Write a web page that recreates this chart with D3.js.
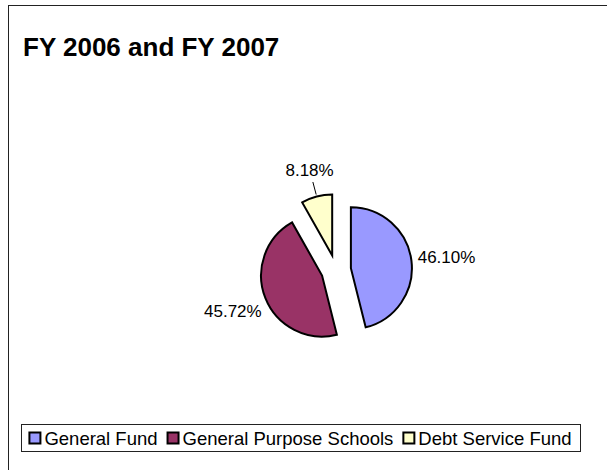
<!DOCTYPE html>
<html>
<head>
<meta charset="utf-8">
<script src="https://cdn.jsdelivr.net/npm/d3@7"></script>
<style>
  html, body { margin: 0; padding: 0; background: #fff; }
  svg { display: block; }
  text { font-family: Arial, "Liberation Sans", sans-serif; fill: #000; }
</style>
</head>
<body>
<svg id="chart" width="607" height="470"></svg>
<script>
// Fund shares, FY 2006 and FY 2007
const title = "FY 2006 and FY 2007";
const categories = ["General Fund", "General Purpose Schools", "Debt Service Fund"];
const shares = [46.10, 45.72, 8.18];
const colors = ["#9999FF", "#993366", "#FFFFCC"];

const svg = d3.select("#chart");
const W = 607, H = 470;

// chart frame (runs past the right and bottom edges)
svg.append("rect")
  .attr("x", 8.5).attr("y", 5.5)
  .attr("width", W + 10).attr("height", H + 10)
  .attr("fill", "#fff").attr("stroke", "#222").attr("stroke-width", 1);

svg.append("text")
  .attr("x", 23).attr("y", 56)
  .attr("font-size", 26).attr("font-weight", "bold")
  .text(title);

// pie
const cx = 336, cy = 270, radius = 61, explode = 15;
const data = categories.map((c, i) => ({ name: c, value: shares[i], color: colors[i] }));
const pie = d3.pie().sort(null).value(d => d.value).startAngle(0).endAngle(2 * Math.PI);
const arcs = pie(data);
const arc = d3.arc().innerRadius(0).outerRadius(radius);

const g = svg.append("g").attr("transform", `translate(${cx},${cy})`);

arcs.forEach(a => {
  const mid = (a.startAngle + a.endAngle) / 2;
  a.dx = Math.sin(mid);
  a.dy = -Math.cos(mid);
  a.ox = a.dx * explode;
  a.oy = a.dy * explode;
});

g.selectAll("path.slice")
  .data(arcs)
  .join("path")
  .attr("class", "slice")
  .attr("transform", d => `translate(${d.ox},${d.oy})`)
  .attr("d", arc)
  .attr("fill", d => d.data.color)
  .attr("stroke", "#000")
  .attr("stroke-width", 2)
  .attr("stroke-linejoin", "miter");

// value labels placed just outside each slice along its bisector
const labelSize = 17;
const labels = g.selectAll("text.val")
  .data(arcs)
  .join("text")
  .attr("class", "val")
  .attr("font-size", labelSize)
  .attr("text-anchor", "middle")
  .text(d => d.data.value.toFixed(2) + "%");

labels.each(function(d) {
  const hw = this.getComputedTextLength() / 2;
  const hh = labelSize * 0.36;
  const small = d.data.value < 10;
  const gap = small ? 16 : 6;
  const dist = radius + gap + hw * Math.abs(d.dx) + hh * Math.abs(d.dy);
  const lx = d.ox + d.dx * dist;
  const ly = d.oy + d.dy * dist;
  d3.select(this).attr("x", lx).attr("y", ly + hh);
  if (small) {
    g.append("line")
      .attr("x1", d.ox + d.dx * (radius + 2))
      .attr("y1", d.oy + d.dy * (radius + 2))
      .attr("x2", d.ox + d.dx * (radius + 15))
      .attr("y2", d.oy + d.dy * (radius + 15))
      .attr("stroke", "#000").attr("stroke-width", 1);
  }
});

// legend
const legX = 21, legY = 424, legW = 559, legH = 27;
const legend = svg.append("g");
legend.append("rect")
  .attr("x", legX + 0.5).attr("y", legY + 0.5)
  .attr("width", legW).attr("height", legH)
  .attr("fill", "#fff").attr("stroke", "#222").attr("stroke-width", 1);

const legendSize = 18.5, sw = 11, swGap = 4, itemGap = 10;
const items = legend.selectAll("g.item").data(data).join("g").attr("class", "item");
items.append("rect")
  .attr("width", sw).attr("height", sw)
  .attr("fill", d => d.color)
  .attr("stroke", "#000").attr("stroke-width", 2);
items.append("text")
  .attr("font-size", legendSize)
  .attr("x", sw + swGap)
  .attr("y", sw / 2 + legendSize * 0.36)
  .text(d => d.name);

const widths = [];
items.select("text").each(function() { widths.push(this.getComputedTextLength()); });
const total = d3.sum(widths) + data.length * (sw + swGap) + (data.length - 1) * itemGap;
let xpos = legX + (legW - total) / 2;
items.attr("transform", (d, i) => {
  const t = `translate(${xpos},${legY + (legH - sw) / 2 + 0.5})`;
  xpos += sw + swGap + widths[i] + itemGap;
  return t;
});
</script>
</body>
</html>
